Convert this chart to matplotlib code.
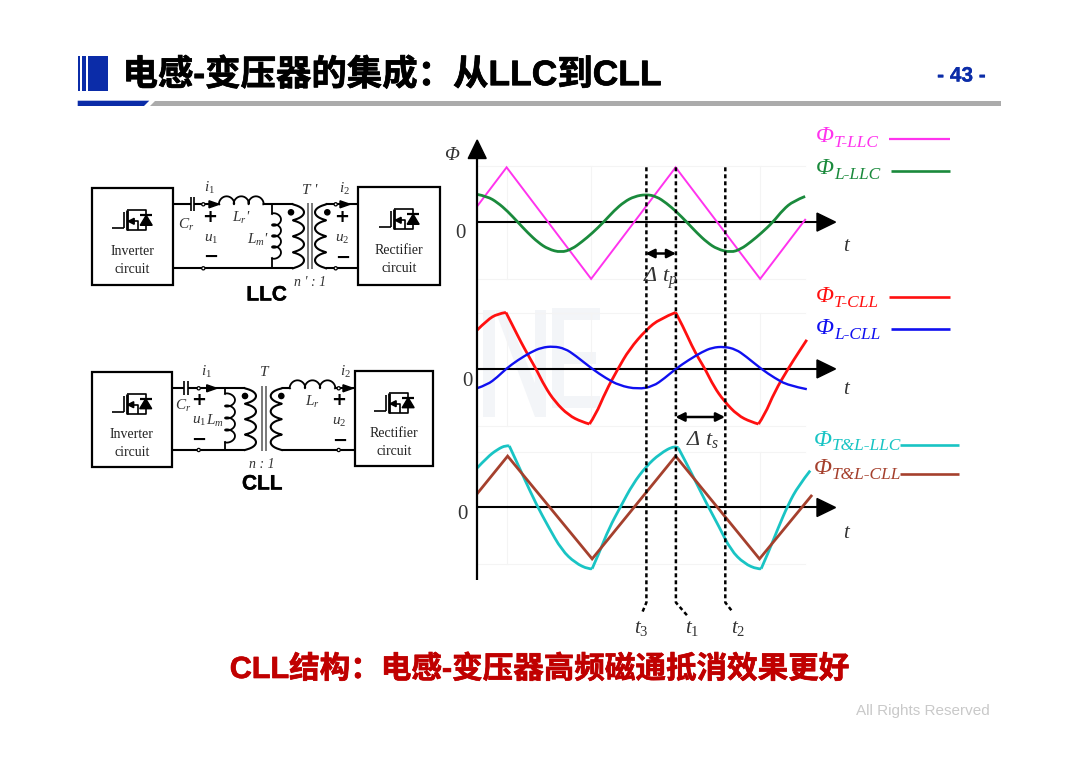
import numpy as np
import matplotlib
matplotlib.use("Agg")
import matplotlib.pyplot as plt
import matplotlib.patheffects as pe
from matplotlib.path import Path
from matplotlib.patches import Polygon, Rectangle, Circle, PathPatch

plt.rcParams['font.family'] = ['Liberation Sans', 'Noto Sans CJK SC', 'DejaVu Sans']
plt.rcParams['mathtext.fontset'] = 'custom'
plt.rcParams['mathtext.it'] = 'Liberation Serif:italic'
plt.rcParams['mathtext.rm'] = 'Liberation Serif'

W, H = 1080, 764
SERIF = 'Liberation Serif'
BLUE = '#0B2CA8'

# Flux curves, t and flux (same arbitrary units in all panels)
t_t_llc = [0, 87, 337, 587, 837, 970]
phi_t_llc = [47, 162, -168, 162, -168, 7]
t_l_llc = [0, 30, 60, 90, 120, 150, 180, 210, 248, 280, 310, 340, 374, 405, 435, 465,
           500, 530, 560, 590, 620, 650, 680, 710, 750, 780, 810, 840, 875, 905, 935, 970]
phi_l_llc = [82, 76, 58, 32, 0, -32, -60, -80, -90, -80, -58, -33, 0, 34, 60, 76,
             82, 76, 56, 30, 0, -32, -60, -80, -90, -80, -58, -33, 0, 37, 62, 76]

t_t_cll = [0, 30, 60, 85, 105, 130, 155, 175, 200, 230, 270, 310, 332, 350, 380, 415, 450,
           500, 540, 587, 610, 635, 655, 675, 700, 730, 770, 810, 832, 850, 880, 920, 950, 975]
phi_t_cll = [115, 145, 163, 167, 128, 78, 33, -2, -52, -97, -137, -157, -163, -137, -67, -2, 58,
             116, 148, 167, 123, 68, 31, -2, -52, -95, -137, -157, -163, -137, -67, 1, 48, 86]
t_l_cll = [0, 30, 60, 85, 120, 160, 190, 225, 260, 290, 340, 380, 420, 475,
           520, 555, 587, 625, 665, 695, 730, 765, 795, 840, 880, 920, 975]
phi_l_cll = [-57, -47, -24, 0, 26, 50, 63, 67, 60, 40, 0, -27, -49, -60,
             -52, -27, 0, 26, 50, 63, 66, 58, 37, 0, -27, -49, -60]

t_tl_llc = [0, 30, 60, 85, 95, 115, 140, 175, 210, 250, 290, 330, 340, 360, 390, 425, 460,
            500, 540, 585, 595, 620, 650, 680, 715, 750, 790, 830, 840, 860, 890, 920, 950, 985]
phi_tl_llc = [117, 149, 172, 184, 182, 139, 84, 9, -56, -126, -164, -183, -181, -136, -61, 4, 69,
              122, 159, 184, 176, 129, 69, 9, -56, -126, -166, -183, -181, -136, -61, 9, 64, 109]
t_tl_cll = [0, 90, 340, 587, 835, 988]
phi_tl_cll = [41, 152, -152, 152, -152, 34]

# where the curves have a sharp corner
corners_t_cll = [85, 332, 587, 832]
corners_tl_llc = [95, 340, 595, 840]

c_magenta = '#FF33EE'
c_green = '#1A8A3C'
c_red = '#FF1010'
c_blue = '#1010F0'
c_cyan = '#19C4C4'
c_brown = '#A5402D'

title_text = '电感-变压器的集成：从LLC到CLL'
page_text = '- 43 -'
bottom_text = 'CLL结构：电感-变压器高频磁通抵消效果更好'
footer_text = 'All Rights Reserved'

fig = plt.figure(figsize=(W / 100, H / 100), dpi=100)
bg = fig.add_axes([0, 0, 1, 1])
bg.set_xlim(0, W)
bg.set_ylim(H, 0)
bg.axis('off')


def line(xs, ys, color='black', lw=1.3, **kw):
    bg.plot(xs, ys, color=color, lw=lw, solid_capstyle='butt', **kw)


def serif(x, y, s, size=11, color='#222222'):
    bg.text(x, y, s, fontsize=size, color=color, family=SERIF, ha='center', va='center')


def coil(x0, y0, x1, y1, n, bulge, loop, lw=1.3):
    # coil between two points, bumps on one side, little loops between the bumps
    u = np.linspace(0, 1, 200)
    d = np.array([x1 - x0, y1 - y0], dtype=float)
    L = np.hypot(*d)
    d = d / L
    nrm = np.array([d[1], -d[0]])
    a = u * L - loop * np.sin(2 * np.pi * n * u)
    b = bulge * (1 - np.cos(2 * np.pi * n * u)) / 2
    bg.plot(x0 + a * d[0] + b * nrm[0], y0 + a * d[1] + b * nrm[1], color='black', lw=lw)


def switch_icon(cx, cy):
    line([cx - 21, cx - 9], [cy + 8, cy + 8], lw=1.2)
    line([cx - 9, cx - 9], [cy - 8, cy + 8], lw=1.2)
    line([cx - 6, cx - 6], [cy - 10, cy + 10], lw=2)
    line([cx - 6, cx + 13, cx + 13, cx - 6], [cy - 10, cy - 10, cy + 10, cy + 10], lw=1.2)
    line([cx - 6, cx + 5, cx + 5], [cy + 1, cy + 1, cy + 10], lw=1.2)
    bg.add_patch(Polygon([[cx - 5, cy + 1], [cx + 1, cy - 2], [cx + 1, cy + 4]], color='black'))
    bg.add_patch(Polygon([[cx + 7, cy + 5], [cx + 19, cy + 5], [cx + 13, cy - 5]], color='black'))
    line([cx + 7, cx + 19], [cy - 5, cy - 5], lw=1.6)


def block(x0, y0, x1, y1, word):
    bg.add_patch(Rectangle((x0, y0), x1 - x0, y1 - y0, fc='white', ec='black', lw=1.6))
    cx = (x0 + x1) / 2
    switch_icon(cx + 1, y0 + 32)
    serif(cx, y0 + 63, word, size=10)
    serif(cx, y0 + 81, 'circuit', size=10)


def node(x, y):
    bg.add_patch(Circle((x, y), 1.6, fc='white', ec='black', lw=0.9, zorder=4))


def wire_arrow(x, y):
    bg.add_patch(Polygon([[x + 5, y], [x - 5, y - 3.5], [x - 5, y + 3.5]], color='black', zorder=4))


def dot(x, y):
    bg.add_patch(Circle((x, y), 2.6, color='black'))


def cap(x0, x1, y):
    line([x0, x0], [y - 7, y + 7], lw=1.2)
    line([x1, x1], [y - 7, y + 7], lw=1.2)


def math_lab(x, y, s, size=11, style='italic'):
    bg.text(x, y, s, fontsize=size, color='#333333', family=SERIF, style=style,
            ha='center', va='center')


def heavy(x, y, s, size, color, ha='center', stroke=0.5):
    t = bg.text(x, y, s, fontsize=size, weight='bold', color=color, ha=ha, va='center')
    t.set_path_effects([pe.withStroke(linewidth=stroke, foreground=color)])


# ---- header
for x0, x1 in [(77.7, 80), (82, 86), (88, 108.3)]:
    bg.add_patch(Rectangle((x0, 55.7), x1 - x0, 35, color=BLUE, lw=0))
bg.add_patch(Polygon([[77.7, 100.7], [149.3, 100.7], [144, 106], [77.7, 106]], color=BLUE, lw=0))
bg.add_patch(Polygon([[155, 100.7], [1001, 100.7], [1001, 106], [150, 106]], color='#ABABAB', lw=0))
heavy(122.5, 75, title_text, 25.5, 'black', ha='left')
heavy(961.5, 76, page_text, 15, BLUE, stroke=0.2)

# ---- LLC circuit
block(91.7, 188.3, 172.7, 285, 'Inverter')
block(358.3, 187.3, 440, 285, 'Rectifier')
line([172.7, 190.5], [204.3, 204.3], lw=1.5)
cap(190.5, 194, 204.3)
line([194, 219.3], [204.3, 204.3], lw=1.5)
coil(219.3, 204.3, 263.3, 204.3, 3, 8, 3)
line([263.3, 293], [204.3, 204.3], lw=1.5)
line([172.7, 293], [268.3, 268.3], lw=1.5)
line([272, 272], [204.3, 214], lw=1.3)
coil(272, 214, 272, 258, 4, 9, 3)
line([272, 272], [258, 268.3], lw=1.3)
coil(293, 204.3, 293, 268.3, 4, 11, 2, lw=1.5)
line([307.7, 307.7], [203, 269], color='#555555', lw=1.1)
line([311.7, 311.7], [203, 269], color='#555555', lw=1.1)
coil(326, 204.3, 326, 268.3, 4, -11, 2, lw=1.5)
line([326, 358.3], [204.3, 204.3], lw=1.5)
line([326, 358.3], [268.3, 268.3], lw=1.5)
for x, y in [(203.3, 204.3), (203.3, 268.3), (335.7, 204.3), (335.7, 268.3)]:
    node(x, y)
wire_arrow(214, 204.3)
wire_arrow(345, 204.3)
dot(291, 212.3)
dot(327.3, 212.3)
math_lab(209.3, 188, '$i_1$')
math_lab(186, 225, '$C_r$')
math_lab(210.7, 239, '$u_1$')
math_lab(241.7, 218, "$L_r$'")
math_lab(257.7, 240, "$L_m$'")
math_lab(310, 190, "T '")
math_lab(310, 283, "n ' : 1", size=10)
math_lab(344.3, 189, '$i_2$')
math_lab(342.3, 239.3, '$u_2$')
for x, y, s in [(210, 217.3, '+'), (210.7, 257, '−'), (341.7, 216.7, '+'), (342.3, 257.5, '−')]:
    bg.text(x, y, s, fontsize=13, weight='bold', color='black', family='DejaVu Sans', ha='center', va='center')
heavy(266.7, 295, 'LLC', 15, 'black', stroke=0.3)

# ---- CLL circuit
block(91.7, 371.7, 171.7, 466.7, 'Inverter')
block(355, 370.7, 433.3, 466, 'Rectifier')
line([171.7, 183.5], [388.3, 388.3], lw=1.5)
cap(183.5, 187.5, 388.3)
line([187.5, 245], [388.3, 388.3], lw=1.5)
line([171.7, 245], [450, 450], lw=1.5)
line([225, 225], [388.3, 394], lw=1.3)
coil(225, 394, 225, 442, 4, 10, 3)
line([225, 225], [442, 450], lw=1.3)
coil(245, 388.3, 245, 450, 4, 11, 2, lw=1.5)
line([261.7, 261.7], [386, 450.7], color='#555555', lw=1.1)
line([265.7, 265.7], [386, 450.7], color='#555555', lw=1.1)
coil(281.7, 388.3, 281.7, 450, 4, -11, 2, lw=1.5)
coil(290, 388.3, 335, 388.3, 3, 8, 3)
line([281.7, 290], [388.3, 388.3], lw=1.5)
line([335, 355], [388.3, 388.3], lw=1.5)
line([281.7, 355], [450, 450], lw=1.5)
for x, y in [(198.7, 388.3), (198.7, 450), (338.7, 388.3), (338.7, 450)]:
    node(x, y)
wire_arrow(211.7, 388.3)
wire_arrow(348, 388.3)
dot(245, 396)
dot(281.3, 396)
math_lab(206, 372, '$i_1$')
math_lab(182.7, 406, '$C_r$')
math_lab(199.3, 421.7, '$u_1$')
math_lab(215, 420.7, '$L_m$')
math_lab(264, 372.7, 'T')
math_lab(312.7, 401.7, '$L_r$')
math_lab(345, 372, '$i_2$')
math_lab(339.3, 422.7, '$u_2$')
math_lab(261.7, 464, 'n : 1', size=10)
for x, y, s in [(198.3, 400, '+'), (199, 440, '−'), (338.3, 400, '+'), (339.3, 441, '−')]:
    bg.text(x, y, s, fontsize=13, weight='bold', color='black', family='DejaVu Sans', ha='center', va='center')
heavy(262.3, 484, 'CLL', 15, 'black', stroke=0.3)

# ---- watermark behind the middle panel
wm = '#F3F5F8'
for pts in [[[483, 310], [495, 310], [495, 417], [483, 417]],
            [[495, 310], [505, 310], [546, 410], [546, 417], [535, 417]],
            [[535, 310], [546, 310], [546, 417], [535, 417]],
            [[552, 308], [600, 308], [600, 320], [564, 320], [564, 352], [596, 352], [596, 364],
             [564, 364], [564, 396], [600, 396], [600, 408], [552, 408]]]:
    bg.add_patch(Polygon(pts, color=wm, lw=0, zorder=0))

# ---- waveform panels, each one a real axes
X0, SCALE = 477.2, 2.958


def draw_curve(ax, t, phi, col, lw, corners=()):
    # read points as control points of a smooth path, split at the sharp corners
    pts = np.column_stack([t, phi]).astype(float)
    cuts = [0] + [t.index(c) for c in corners] + [len(t) - 1]
    for a, b in zip(cuts[:-1], cuts[1:]):
        seg = pts[a:b + 1]
        verts = [seg[0]]
        codes = [Path.MOVETO]
        for i in range(1, len(seg) - 1):
            end = seg[i + 1] if i == len(seg) - 2 else (seg[i] + seg[i + 1]) / 2
            verts += [seg[i], end]
            codes += [Path.CURVE3, Path.CURVE3]
        if len(seg) == 2:
            verts.append(seg[1])
            codes.append(Path.LINETO)
        ax.add_patch(PathPatch(Path(verts, codes), fc='none', ec=col, lw=lw, zorder=3, clip_on=False))


def panel(y0, curves):
    half = 200 / SCALE
    ax = fig.add_axes([X0 / W, 1 - (y0 + half) / H, (1060 / SCALE) / W, 2 * half / H])
    ax.set_xlim(0, 1060)
    ax.set_ylim(-200, 200)
    ax.axis('off')
    ax.patch.set_alpha(0)
    for v in [87, 337, 587, 837]:
        ax.plot([v, v], [-168, 165], color='#F4F4F4', lw=0.8, zorder=1)
    for v in [-168, 165]:
        ax.plot([0, 970], [v, v], color='#F4F4F4', lw=0.8, zorder=1)
    ax.plot([0, 1010], [0, 0], color='black', lw=1.5, zorder=2)
    for t, phi, col, lw, corners in curves:
        if len(t) < 8:
            ax.plot(t, phi, color=col, lw=lw, zorder=3, solid_joinstyle='miter')
        else:
            draw_curve(ax, t, phi, col, lw, corners)
    return ax


panel(222.1, [(t_t_llc, phi_t_llc, c_magenta, 1.4, ()), (t_l_llc, phi_l_llc, c_green, 2.0, ())])
panel(368.9, [(t_t_cll, phi_t_cll, c_red, 2.0, corners_t_cll), (t_l_cll, phi_l_cll, c_blue, 1.7, ())])
panel(507.5, [(t_tl_llc, phi_tl_llc, c_cyan, 2.0, corners_tl_llc), (t_tl_cll, phi_tl_cll, c_brown, 2.0, ())])

# overlay for the annotations on top of the panels
top = fig.add_axes([0, 0, 1, 1])
top.set_xlim(0, W)
top.set_ylim(H, 0)
top.axis('off')
top.patch.set_alpha(0)
bg = top

line([477.2, 477.2], [150, 580], lw=1.6)
bg.add_patch(Polygon([[477.2, 140], [468.2, 158.5], [486.2, 158.5]], color='black'))
for y0 in [222.1, 368.9, 507.5]:
    bg.add_patch(Polygon([[835.5, y0], [817, y0 - 9], [817, y0 + 9]], color='black'))

# dashed time markers
for xs, ys in [([646.4, 646.4, 642.2], [167.3, 602.5, 612.6]),
               ([675.9, 675.9, 688.5], [167.3, 602.5, 617]),
               ([725.3, 725.3, 732.4], [167.3, 602.5, 611.6])]:
    bg.plot(xs, ys, color='black', lw=1.8, dashes=(1.6, 1.2))

arrow_style = dict(arrowstyle='<|-|>', color='black', lw=1.8, shrinkA=0, shrinkB=0, mutation_scale=13)
bg.annotate('', xy=(645.5, 253.5), xytext=(676, 253.5), arrowprops=arrow_style)
bg.annotate('', xy=(675.5, 417), xytext=(725, 417), arrowprops=arrow_style)

math_lab(451, 156, 'Φ', size=14)
for x, y in [(460, 234), (467, 381), (462, 514.6)]:
    serif(x, y, '0', size=15, color='#333333')
for y in [246.8, 389, 533]:
    math_lab(845.7, y, 't', size=15)
math_lab(660, 278, 'Δ $t_p$', size=16)
math_lab(703, 439.5, 'Δ $t_s$', size=16)
math_lab(641, 628, '$t_3$', size=15)
math_lab(692, 628, '$t_1$', size=15)
math_lab(738.5, 629, '$t_2$', size=15)


def flux_label(x, y, sub, col, lx0, lx1, ly, lw):
    bg.text(x, y, 'Φ', fontsize=17, color=col, family=SERIF, style='italic', ha='left', va='center')
    bg.text(x + 18, y + 6, sub, fontsize=12.5, color=col, family=SERIF, style='italic', ha='left', va='center')
    line([lx0, lx1], [ly, ly], color=col, lw=lw)


flux_label(816, 137, 'T-LLC', c_magenta, 888.6, 949.5, 138.6, 1.6)
flux_label(816, 169, 'L-LLC', c_green, 890.6, 949.5, 170.7, 1.9)
flux_label(816, 297, 'T-CLL', c_red, 888.6, 949.5, 296.9, 1.9)
flux_label(816, 329, 'L-CLL', c_blue, 890.6, 949.5, 329, 1.9)
flux_label(814, 440, 'T&L-LLC', c_cyan, 899.8, 959, 444.6, 1.9)
flux_label(814, 469, 'T&L-CLL', c_brown, 899.8, 959, 474, 1.9)

# ---- bottom texts
heavy(539, 670, bottom_text, 22, '#C00000')
bg.text(923, 711.5, footer_text, fontsize=11, color='#C9C9C9', family='Liberation Sans', ha='center', va='center')

fig.savefig('out.png', dpi=100)
